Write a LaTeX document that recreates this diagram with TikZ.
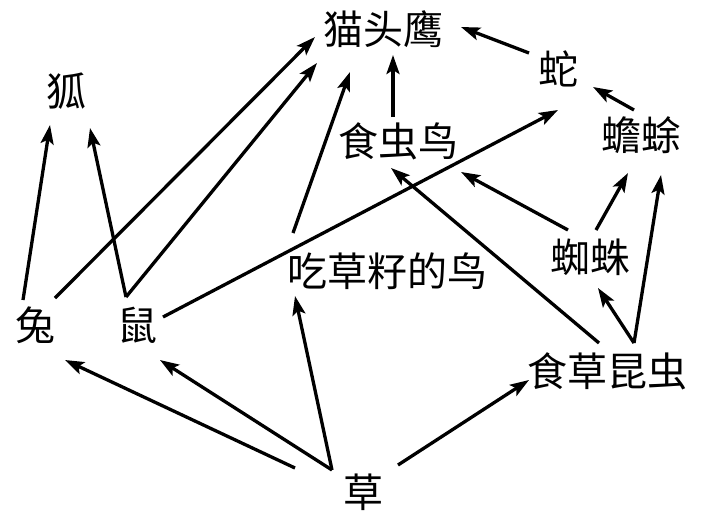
\documentclass[tikz,border=0pt]{standalone}
\usepackage{fontspec}
\newfontfamily\cjk{Noto Sans CJK SC}
\usetikzlibrary{arrows.meta}
\begin{document}
\begin{tikzpicture}[x=1pt,y=-1pt,
  lbl/.style={inner sep=0pt,font=\cjk\fontsize{40}{40}\selectfont},
  arr/.style={line width=3.3pt,-{Stealth[length=19pt,width=13pt,inset=4pt]}}]
\useasboundingbox (0,0) rectangle (722,520);
\node[lbl] (mao) at (383,29) {猫头鹰};
\node[lbl] (she) at (558,69) {蛇};
\node[lbl] (hu) at (66,91) {狐};
\node[lbl] (chanchu) at (641,135) {蟾蜍};
\node[lbl] (scn) at (398,141) {食虫鸟};
\node[lbl] (chicao) at (387,271) {吃草籽的鸟};
\node[lbl] (zhizhu) at (590,257) {蜘蛛};
\node[lbl] (tu) at (36,325) {兔};
\node[lbl] (shu) at (137,325) {鼠};
\node[lbl] (kc) at (607,371) {食草昆虫};
\node[lbl] (cao) at (363,492) {草};
% grass
\draw[arr] ([shift={(-68,-24)}]cao.center) -- ([shift={(29,35)}]tu.center);
\draw[arr] ([shift={(-31,-22)}]cao.center) -- ([shift={(23,35)}]shu.center);
\draw[arr] ([shift={(-31,-22)}]cao.center) -- ([shift={(-92,25)}]chicao.center);
\draw[arr] ([shift={(35,-27)}]cao.center) -- ([shift={(-78,9)}]kc.center);
% rabbit, mouse
\draw[arr] ([shift={(-13,-25)}]tu.center) -- ([shift={(-16,34)}]hu.center);
\draw[arr] ([shift={(19,-27)}]tu.center) -- ([shift={(-68,8)}]mao.center);
\draw[arr] ([shift={(-11,-28)}]shu.center) -- ([shift={(24,37)}]hu.center);
\draw[arr] ([shift={(-11,-28)}]shu.center) -- ([shift={(-66,34)}]mao.center);
\draw[arr] ([shift={(26,-8)}]shu.center) -- ([shift={(0,41)}]she.center);
% birds
\draw[arr] ([shift={(-94,-38)}]chicao.center) -- ([shift={(-33,43)}]mao.center);
\draw[arr] ([shift={(-5,-24)}]scn.center) -- ([shift={(10,26)}]mao.center);
\draw[arr] ([shift={(-29,-16)}]she.center) -- ([shift={(78,-2)}]mao.center);
\draw[arr] ([shift={(-7,-25)}]chanchu.center) -- ([shift={(35,18)}]she.center);
% insects
\draw[arr] ([shift={(6,-27)}]zhizhu.center) -- ([shift={(-13,38)}]chanchu.center);
\draw[arr] ([shift={(27,-28)}]kc.center) -- ([shift={(20,40)}]chanchu.center);
\draw[arr] ([shift={(27,-28)}]kc.center) -- ([shift={(8,31)}]zhizhu.center);
\draw[arr] ([shift={(-22,-27)}]zhizhu.center) -- ([shift={(63,31)}]scn.center);
\draw[arr] ([shift={(-8,-28)}]kc.center) -- ([shift={(-7,27)}]scn.center);
\end{tikzpicture}
\end{document}
